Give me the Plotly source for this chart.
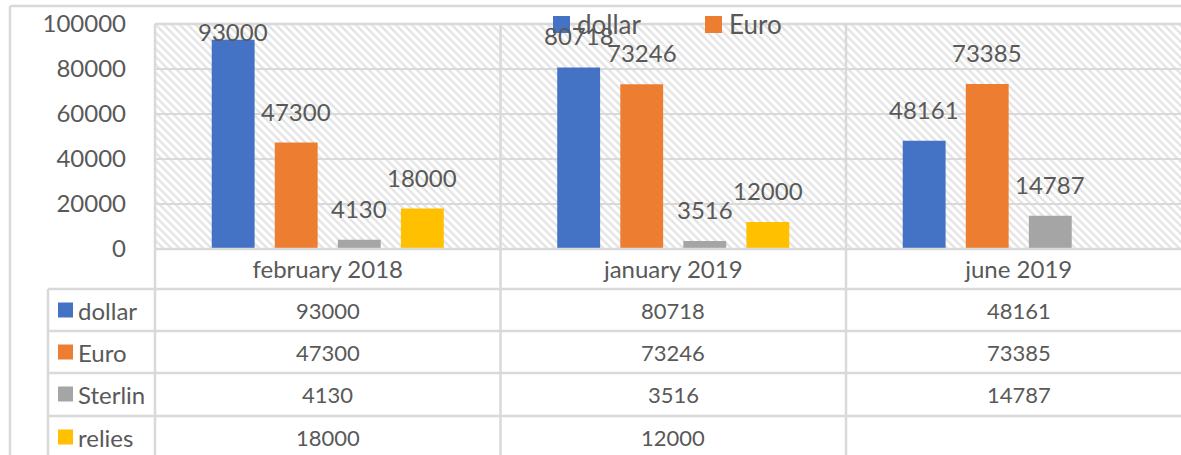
import urllib.parse
import plotly.graph_objects as go

# ---------------- data ----------------
categories = ["february 2018", "january 2019", "june 2019"]
series_names = ["dollar", "Euro", "Sterlin", "relies"]
dollar = [93000, 80718, 48161]
euro = [47300, 73246, 73385]
sterlin = [4130, 3516, 14787]
relies = [18000, 12000, None]
y_ticks = [0, 20000, 40000, 60000, 80000, 100000]
legend_series = ["dollar", "Euro"]          # only these show in the chart legend

series_values = [dollar, euro, sterlin, relies]
colors = ["#4472C4", "#ED7D31", "#A5A5A5", "#FFC000"]

# ---------------- layout geometry (screen pixels) ----------------
W, H = 1181, 455
OFF = 0                                     # page body margin (removed by post_script)
PL, PR, PT, PB = 155, 1181, 24, 249          # plot area
CAT_W = 345.5                               # pixel width of one category
FONT = "Lato, 'Open Sans', sans-serif"
TXT = "#595959"
LINE = "#d9d9d9"
LW = 2.5
BARGAP = 0.27
BARGROUPGAP = 0.32
YMAX = 100000

def fx(p):
    return (p - OFF) / W

def fy(p):
    return 1 - (p - OFF) / H

x_idx = list(range(len(categories)))
x_range = [-0.5, -0.5 + (PR - PL) / CAT_W]

fig = go.Figure()
for name, vals, col in zip(series_names, series_values, colors):
    fig.add_trace(go.Bar(
        x=x_idx, y=vals, name=name, marker=dict(color=col, line=dict(width=0)),
        showlegend=False, hoverinfo="skip",
    ))

shapes = []
annotations = []

# ---- data labels above bars ----
slot_px = (1 - BARGAP) / len(series_names) * CAT_W
px_per_unit = (PB - PT) / YMAX
for i, vals in enumerate(series_values):
    for j, v in enumerate(vals):
        if v is None:
            continue
        bar_top = PB - v * px_per_unit
        shift = min(15, bar_top - 48)
        annotations.append(dict(
            x=j, y=v, xref="x", yref="y", text=str(v), showarrow=False,
            xanchor="center", yanchor="bottom",
            xshift=(i - (len(series_names) - 1) / 2) * slot_px, yshift=shift,
            font=dict(family=FONT, size=24, color=TXT),
        ))

# ---- hatched plot background (svg pattern) ----
hw, hh = PR - PL + 10, PB - PT
svg = (
    f"<svg xmlns='http://www.w3.org/2000/svg' width='{hw}' height='{hh}'>"
    "<defs><pattern id='p' patternUnits='userSpaceOnUse' width='8' height='8'>"
    "<rect width='8' height='8' fill='white'/>"
    "<path d='M-2,6 L2,10 M0,0 L8,8 M6,-2 L10,2' stroke='#e5e5e5' stroke-width='2.4'/>"
    "</pattern></defs>"
    f"<rect width='{hw}' height='{hh}' fill='url(#p)'/></svg>"
)
src = "data:image/svg+xml;charset=utf-8," + urllib.parse.quote(svg)
images = [dict(source=src, xref="paper", yref="paper", x=fx(PL), y=fy(PT),
               sizex=hw / W, sizey=hh / H, sizing="stretch", layer="below",
               xanchor="left", yanchor="top")]

# ---- frame / table lines ----
def hline(y, x0, x1):
    shapes.append(dict(type="line", xref="paper", yref="paper", x0=fx(x0), x1=fx(x1),
                       y0=fy(y), y1=fy(y), line=dict(color=LINE, width=LW)))

def vline(x, y0, y1):
    shapes.append(dict(type="line", xref="paper", yref="paper", x0=fx(x), x1=fx(x),
                       y0=fy(y0), y1=fy(y1), line=dict(color=LINE, width=LW)))

END_X, END_Y = W + OFF + 5, H + OFF + 5
# outer chart border
hline(6, 10, END_X)
vline(10, 6, END_Y)
# plot area + table
hline(PT, PL, END_X)
hline(PB, PL, END_X)
row_y = [289, 331, 373, 416]
for y in row_y:
    hline(y, 48, END_X)
vline(48, 289, END_Y)
vline(PL, PT, END_Y)
for k in range(1, len(categories)):
    vline(PL + k * CAT_W, PT, END_Y)

# table row headers and values
row_centers = [310, 352, 394, 437]
for i, (name, vals, col) in enumerate(zip(series_names, series_values, colors)):
    yc = row_centers[i]
    shapes.append(dict(type="rect", xref="paper", yref="paper",
                       x0=fx(58), x1=fx(73), y0=fy(yc - 7.5), y1=fy(yc + 7.5),
                       fillcolor=col, line=dict(width=0)))
    annotations.append(dict(x=fx(76), y=fy(yc), xref="paper", yref="paper", text=name,
                            showarrow=False, xanchor="left", yanchor="middle",
                            font=dict(family=FONT, size=24, color=TXT)))
    for j, v in enumerate(vals):
        if v is None:
            continue
        annotations.append(dict(x=j, y=fy(yc), xref="x", yref="paper", text=str(v),
                                showarrow=False, xanchor="center", yanchor="middle",
                                font=dict(family=FONT, size=22, color=TXT)))

# ---- chart legend (top, partially shown as in the original) ----
legend_x = [553, 705]
for lx, name in zip(legend_x, legend_series):
    col = colors[series_names.index(name)]
    shapes.append(dict(type="rect", xref="paper", yref="paper",
                       x0=fx(lx), x1=fx(lx + 17), y0=fy(33), y1=fy(16),
                       fillcolor=col, line=dict(width=0)))
    annotations.append(dict(x=fx(lx + 22), y=fy(24), xref="paper", yref="paper",
                            text=name, showarrow=False, xanchor="left", yanchor="middle",
                            font=dict(family=FONT, size=26, color=TXT)))

fig.update_layout(
    width=W, height=H,
    margin=dict(l=0, r=0, t=0, b=0, autoexpand=False),
    paper_bgcolor="white", plot_bgcolor="rgba(0,0,0,0)",
    barmode="group", bargap=BARGAP, bargroupgap=BARGROUPGAP,
    font=dict(family=FONT, color=TXT),
    xaxis=dict(domain=[fx(PL), 1], range=x_range, tickmode="array", tickvals=x_idx,
               ticktext=categories, showgrid=False, zeroline=False, showline=False,
               ticks="", ticklabelstandoff=4, automargin=False,
               tickfont=dict(family=FONT, size=24, color=TXT), fixedrange=True),
    yaxis=dict(domain=[fy(PB), fy(PT)], range=[0, YMAX], tickmode="array", tickvals=y_ticks,
               ticktext=[str(v) for v in y_ticks],
               showgrid=True, gridcolor=LINE, gridwidth=LW, zeroline=False, showline=False,
               ticks="", ticklabelstandoff=28, automargin=False,
               tickfont=dict(family=FONT, size=24, color=TXT), fixedrange=True),
    shapes=shapes, annotations=annotations, images=images,
    showlegend=False,
)

fig.write_html(
    "out.html",
    config={"displayModeBar": False, "staticPlot": True},
    post_script="document.body.style.margin='0';document.body.style.overflow='hidden';",
)
